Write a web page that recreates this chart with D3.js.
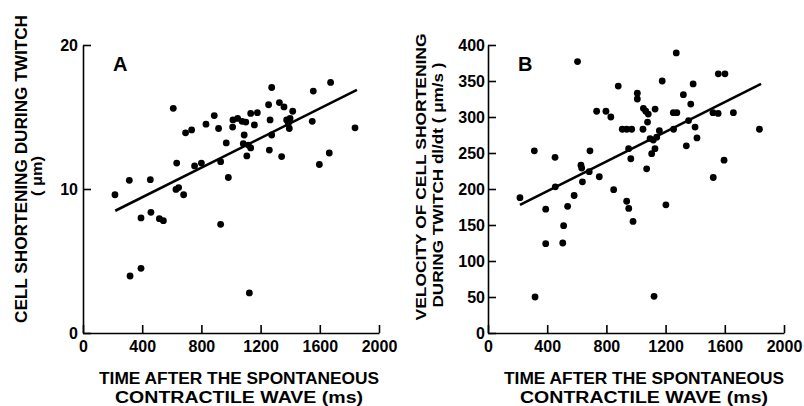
<html>
<script src="https://d3js.org/d3.v7.min.js"></script>
<style>
body { margin: 0; background: #fff; }
text { font-family: "Liberation Sans", Arial, sans-serif; font-weight: bold; fill: #000; }
</style>
<body>
<svg width="804" height="406"></svg>
<script>
// Panel A: cell shortening (um) vs time after wave (ms)
var timeA = [216,313,455,318,392,392,459,516,543,610,633,628,646,680,693,734,754,800,831,887,916,930,930,968,982,
  1011,1013,1045,1075,1100,1089,1083,1117,1133,1107,1124,1133,1178,1158,1254,1259,1264,1275,1275,1327,1358,1342,
  1376,1399,1387,1394,1417,1549,1556,1597,1664,1673,1838];
var shortA = [9.6,10.6,10.65,3.96,4.49,7.99,8.38,7.94,7.8,15.6,11.8,9.97,10.1,9.6,13.9,14.1,11.6,11.8,14.5,15.1,14.2,11.9,7.55,13.2,10.8,
  14.3,14.8,14.9,14.7,14.65,13.75,13.15,13.05,12.85,12.3,2.78,15.25,15.3,14.45,15.85,12.7,14.8,17.05,13.75,16.0,15.7,12.25,
  14.8,14.9,14.55,14.2,15.4,14.7,16.8,11.7,12.5,17.4,14.25];
var fitA = [[218, 8.49], [1851, 16.88]];

// Panel B: velocity of shortening (um/s) vs time after wave (ms)
var timeB = [216,313,318,390,390,453,455,505,511,538,582,605,628,633,684,638,689,734,752,797,830,849,880,907,937,971,
  937,951,980,950,965,1009,1009,1047,1050,1066,1083,1078,1129,1072,1095,1117,1140,1128,1106,1122,1158,1177,1202,
  1254,1252,1276,1272,1320,1340,1355,1370,1386,1399,1412,1522,1520,1555,1556,1601,1595,1658,1834];
var veloB = [188,253,50,172,124,244,203,125,149,176,191,377,233,229,224,210,253,308,217,308,300,199,343,283,283,283,
  183,173,155,256,242,333,325,283,312,308,304,293,311,228,270,268,272,256,249,51,281,350,178,
  283,306,306,389,331,260,295,318,346,286,271,216,306,305,360,360,240,306,283];
var fitB = [[216, 178], [1845, 346]];

var xTicks = [0,400,800,1200,1600,2000];
var yTicksA = [0,10,20];
var yTicksB = [0,50,100,150,200,250,300,350,400];

var svg = d3.select("svg");

function panel(opt) {
  var x = d3.scaleLinear().domain([0,2000]).range([opt.x0, opt.x0 + 296]);
  var y = d3.scaleLinear().domain([0, opt.ymax]).range([333, 45]);
  var g = svg.append("g");

  g.append("g").attr("transform", "translate(0,333)")
    .call(d3.axisBottom(x).tickValues(xTicks).tickFormat(d3.format("d")).tickSizeInner(-8).tickSizeOuter(0).tickPadding(8))
    .call(function(a) { a.selectAll("text").style("font-size","16px").style("font-family","Liberation Sans, Arial").style("font-weight","bold"); });

  g.append("g").attr("transform", "translate(" + opt.x0 + ",0)")
    .call(d3.axisLeft(y).tickValues(opt.yTicks).tickSizeInner(-8).tickSizeOuter(0).tickPadding(opt.pad))
    .call(function(a) { a.selectAll("text").style("font-size","16px").style("font-family","Liberation Sans, Arial").style("font-weight","bold"); });

  g.selectAll(".domain, .tick line").attr("stroke", "#000").attr("stroke-width", 1.6);

  g.append("line")
    .attr("x1", x(opt.fit[0][0])).attr("y1", y(opt.fit[0][1]))
    .attr("x2", x(opt.fit[1][0])).attr("y2", y(opt.fit[1][1]))
    .attr("stroke", "#000").attr("stroke-width", 2.6);

  g.selectAll("circle").data(opt.xs).enter().append("circle")
    .attr("cx", function(d) { return x(d); })
    .attr("cy", function(d, i) { return y(opt.ys[i]); })
    .attr("r", 3.4).attr("fill", "#000");

  g.append("text").attr("x", opt.x0 + 30).attr("y", 71).style("font-size", "20px").text(opt.letter);

  // x title
  var cx = opt.x0 + 156;
  g.append("text").attr("x", cx).attr("y", 384).attr("text-anchor", "middle")
    .style("font-size", "16px").attr("textLength", 280).attr("lengthAdjust", "spacingAndGlyphs")
    .text("TIME AFTER THE SPONTANEOUS");
  g.append("text").attr("x", cx).attr("y", 403).attr("text-anchor", "middle")
    .style("font-size", "16px").attr("textLength", 248).attr("lengthAdjust", "spacingAndGlyphs")
    .text("CONTRACTILE WAVE (ms)");

  // y title
  opt.ylab.forEach(function(l) {
    g.append("text").attr("transform", "translate(" + l.bx + "," + l.cy + ") rotate(-90)")
      .attr("text-anchor", "middle").style("font-size", l.fs + "px")
      .attr("textLength", l.len).attr("lengthAdjust", "spacingAndGlyphs")
      .text(l.t);
  });
}

panel({x0: 83, ymax: 20, yTicks: yTicksA, pad: 5, xs: timeA, ys: shortA, fit: fitA, letter: "A",
  ylab: [{t: "CELL SHORTENING DURING TWITCH", bx: 27, cy: 169, len: 308, fs: 16},
         {t: "( \u03bcm)", bx: 42, cy: 176, len: 40, fs: 15}]});
panel({x0: 488, ymax: 400, yTicks: yTicksB, pad: 3, xs: timeB, ys: veloB, fit: fitB, letter: "B",
  ylab: [{t: "VELOCITY OF CELL SHORTENING", bx: 426, cy: 177, len: 287, fs: 15},
         {t: "DURING TWITCH dl/dt ( \u03bcm/s )", bx: 443, cy: 185, len: 245, fs: 15}]});
</script>
</body>
</html>
